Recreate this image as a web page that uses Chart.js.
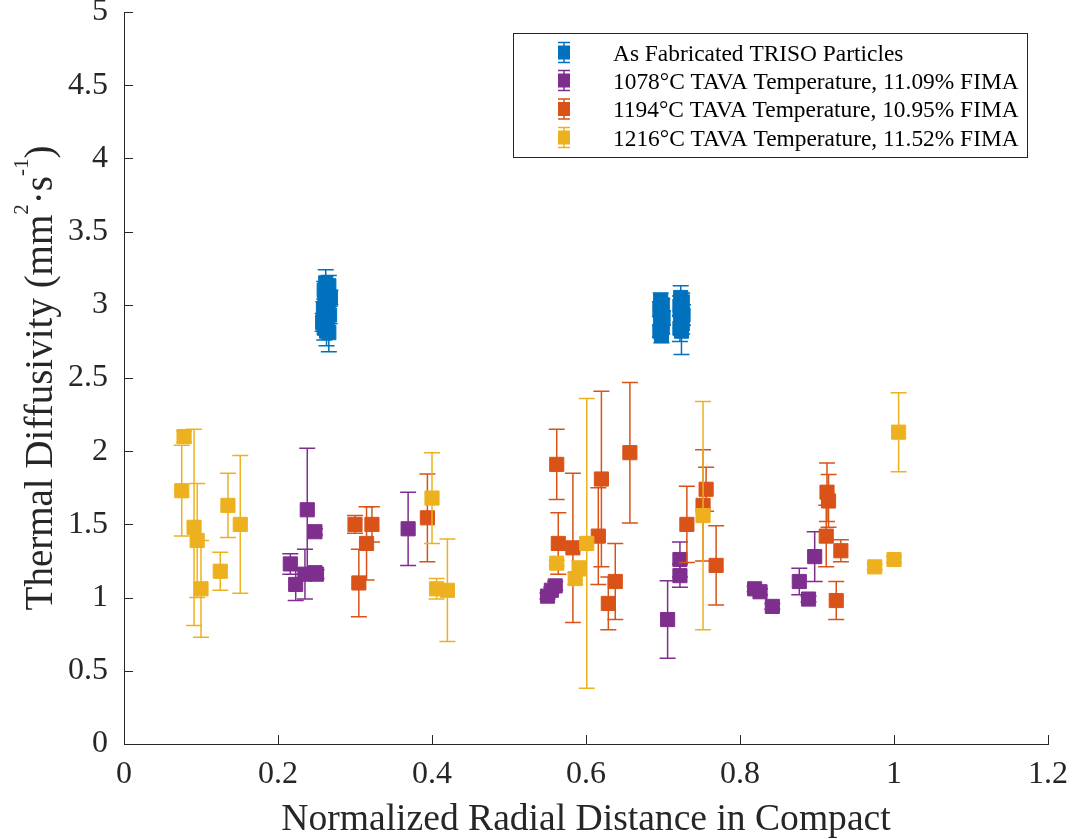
<!DOCTYPE html>
<html lang="en">
<head>
  <meta charset="UTF-8" />
  <title>Thermal Diffusivity vs Radial Distance</title>
  <script src="https://cdn.jsdelivr.net/npm/chart.js"></script>
  <style>
    body { margin: 0; background: #fff; }
    #wrap { width: 1074px; height: 839px; }
  </style>
</head>
<body>
  <div id="wrap"><canvas id="chart" width="1074" height="839"></canvas></div>

  <script>
    // tick positions and labels
    const xTicks = [0, 0.2, 0.4, 0.6, 0.8, 1, 1.2];
    const xTickLabels = ['0', '0.2', '0.4', '0.6', '0.8', '1', '1.2'];
    const yTicks = [0, 0.5, 1, 1.5, 2, 2.5, 3, 3.5, 4, 4.5, 5];
    const yTickLabels = ['0', '0.5', '1', '1.5', '2', '2.5', '3', '3.5', '4', '4.5', '5'];

    const seriesLabels = [
      'As Fabricated TRISO Particles',
      '1078°C TAVA Temperature, 11.09% FIMA',
      '1194°C TAVA Temperature, 10.95% FIMA',
      '1216°C TAVA Temperature, 11.52% FIMA'
    ];
    const seriesColors = ['#0072BD', '#7E2F8E', '#D95319', '#EDB120'];

    // as fabricated particles
    const blueX = [0.262, 0.266, 0.260, 0.264, 0.268, 0.261, 0.265, 0.259, 0.263, 0.267, 0.262, 0.258, 0.264, 0.260, 0.263, 0.266,
                   0.697, 0.699, 0.696, 0.698, 0.700, 0.697, 0.699, 0.696, 0.698,
                   0.723, 0.725, 0.722, 0.724, 0.726, 0.723, 0.725, 0.722, 0.724];
    const blueY = [3.15, 3.13, 3.10, 3.08, 3.05, 3.02, 3.00, 2.97, 2.95, 2.93, 2.91, 2.88, 2.86, 2.84, 2.82, 2.81,
                   3.03, 3.00, 2.97, 2.94, 2.91, 2.88, 2.85, 2.82, 2.79,
                   3.05, 3.02, 2.99, 2.96, 2.93, 2.90, 2.87, 2.84, 2.82];
    const blueErr = [0.09, 0.07, 0.06, 0.08, 0.05, 0.07, 0.06, 0.05, 0.07, 0.06, 0.05, 0.06, 0.07, 0.08, 0.10, 0.13,
                     0.05, 0.04, 0.05, 0.04, 0.05, 0.04, 0.05, 0.04, 0.05,
                     0.08, 0.06, 0.07, 0.06, 0.07, 0.06, 0.07, 0.09, 0.16];

    // 1078 C
    const purpleX = [0.216, 0.223, 0.235, 0.238, 0.248, 0.248, 0.250, 0.369, 0.550, 0.555, 0.560, 0.706, 0.722, 0.722, 0.819, 0.826, 0.842, 0.877, 0.889, 0.897];
    const purpleY = [1.23, 1.09, 1.16, 1.60, 1.17, 1.45, 1.16, 1.47, 1.01, 1.05, 1.08, 0.85, 1.26, 1.15, 1.06, 1.04, 0.94, 1.11, 0.99, 1.28];
    const purpleErr = [0.07, 0.11, 0.17, 0.42, 0.03, 0.02, 0.03, 0.25, 0.02, 0.02, 0.03, 0.265, 0.12, 0.08, 0.02, 0.02, 0.02, 0.09, 0.02, 0.17];

    // 1194 C
    const orangeX = [0.300, 0.305, 0.315, 0.322, 0.394, 0.562, 0.564, 0.583, 0.616, 0.620, 0.629, 0.638, 0.657, 0.731, 0.752, 0.756, 0.769, 0.912, 0.913, 0.915, 0.925, 0.931];
    const orangeY = [1.50, 1.10, 1.37, 1.50, 1.545, 1.91, 1.37, 1.34, 1.42, 1.81, 0.96, 1.11, 1.99, 1.50, 1.63, 1.74, 1.22, 1.42, 1.72, 1.66, 0.98, 1.32];
    const orangeErr = [0.06, 0.23, 0.25, 0.12, 0.30, 0.24, 0.21, 0.51, 0.33, 0.60, 0.18, 0.26, 0.48, 0.26, 0.38, 0.15, 0.27, 0.21, 0.20, 0.18, 0.13, 0.075];

    // 1216 C
    const yellowX = [0.078, 0.075, 0.091, 0.095, 0.100, 0.125, 0.135, 0.151, 0.400, 0.406, 0.420, 0.562, 0.586, 0.591, 0.601, 0.752, 0.975, 1.000, 1.006];
    const yellowY = [2.10, 1.73, 1.48, 1.39, 1.06, 1.18, 1.63, 1.50, 1.68, 1.06, 1.05, 1.235, 1.13, 1.20, 1.37, 1.56, 1.21, 1.26, 2.13];
    const yellowErr = [0.04, 0.31, 0.67, 0.39, 0.33, 0.13, 0.22, 0.47, 0.31, 0.07, 0.35, 0.02, 0.04, 0.05, 0.99, 0.78, 0.02, 0.02, 0.27];

    const xsAll = [blueX, purpleX, orangeX, yellowX];
    const ysAll = [blueY, purpleY, orangeY, yellowY];
    const errAll = [blueErr, purpleErr, orangeErr, yellowErr];

    const serif = "'Liberation Serif', 'Times New Roman', serif";
    const axisColor = '#262626';

    const datasets = seriesLabels.map((label, i) => ({
      label: label,
      data: xsAll[i].map((x, j) => ({ x: x, y: ysAll[i][j] })),
      errors: errAll[i],
      pointStyle: 'rect',
      pointRadius: 10,
      pointHoverRadius: 10,
      borderWidth: 1,
      backgroundColor: seriesColors[i],
      borderColor: seriesColors[i],
      order: seriesLabels.length - 1 - i
    }));

    // error bars, drawn under each series' own markers
    const errorBars = {
      id: 'errorBars',
      beforeDatasetDraw(chart, args) {
        const ds = chart.data.datasets[args.index];
        const xs = chart.scales.x, ys = chart.scales.y;
        const ctx = chart.ctx;
        ctx.save();
        ctx.strokeStyle = ds.borderColor;
        ctx.lineWidth = 1.5;
        ds.data.forEach((p, j) => {
          const e = ds.errors[j];
          const px = xs.getPixelForValue(p.x);
          const top = ys.getPixelForValue(p.y + e);
          const bot = ys.getPixelForValue(p.y - e);
          ctx.beginPath();
          ctx.moveTo(px, top); ctx.lineTo(px, bot);
          ctx.moveTo(px - 8, top); ctx.lineTo(px + 8, top);
          ctx.moveTo(px - 8, bot); ctx.lineTo(px + 8, bot);
          ctx.stroke();
        });
        ctx.restore();
      }
    };

    // inward tick marks, y title with superscripts, boxed legend
    const decorations = {
      id: 'decorations',
      afterDraw(chart) {
        const ctx = chart.ctx;
        const xs = chart.scales.x, ys = chart.scales.y;
        const area = chart.chartArea;
        ctx.save();
        ctx.strokeStyle = axisColor;
        ctx.lineWidth = 1;
        ctx.beginPath();
        xTicks.forEach(v => {
          const px = Math.round(xs.getPixelForValue(v)) + 0.5;
          ctx.moveTo(px, area.bottom); ctx.lineTo(px, area.bottom - 9);
        });
        yTicks.forEach(v => {
          const py = Math.round(ys.getPixelForValue(v)) + 0.5;
          ctx.moveTo(area.left, py); ctx.lineTo(area.left + 9, py);
        });
        ctx.stroke();

        // y axis title
        const parts = [
          ['Thermal Diffusivity (mm', 0], ['2', 1], ['\u00b7s', 0], ['-1', 1], [')', 0]
        ];
        const big = 39, small = 21;
        ctx.translate(52, 378);
        ctx.rotate(-Math.PI / 2);
        ctx.fillStyle = axisColor;
        ctx.textBaseline = 'alphabetic';
        let total = 0;
        parts.forEach(([t, sup]) => {
          ctx.font = (sup ? small : big) + 'px ' + serif;
          total += ctx.measureText(t).width;
        });
        let cx = -total / 2;
        parts.forEach(([t, sup]) => {
          ctx.font = (sup ? small : big) + 'px ' + serif;
          ctx.fillText(t, cx, sup ? -24 : 0);
          cx += ctx.measureText(t).width;
        });
        ctx.restore();

        // legend
        ctx.save();
        const lx = 513, ly = 33, lw = 514, lh = 124;
        ctx.fillStyle = '#fff';
        ctx.fillRect(lx, ly, lw, lh);
        ctx.strokeStyle = axisColor;
        ctx.lineWidth = 1;
        ctx.strokeRect(lx + 0.5, ly + 0.5, lw, lh);
        const baselines = [60.5, 88.5, 117, 145.5];
        ctx.font = '23.4px ' + serif;
        ctx.textBaseline = 'alphabetic';
        seriesLabels.forEach((label, i) => {
          const cy = baselines[i] - 8;
          const ix = 564;
          ctx.strokeStyle = seriesColors[i];
          ctx.lineWidth = 1.5;
          ctx.beginPath();
          ctx.moveTo(ix, cy - 10); ctx.lineTo(ix, cy + 10);
          ctx.moveTo(ix - 6, cy - 10); ctx.lineTo(ix + 6, cy - 10);
          ctx.moveTo(ix - 6, cy + 10); ctx.lineTo(ix + 6, cy + 10);
          ctx.stroke();
          ctx.fillStyle = seriesColors[i];
          ctx.fillRect(ix - 6, cy - 7, 12, 14);
          ctx.fillStyle = '#000';
          ctx.fillText(label, 613, baselines[i]);
        });
        ctx.restore();
      }
    };

    const tickFont = { family: serif, size: 32 };

    new Chart(document.getElementById('chart'), {
      type: 'scatter',
      data: { datasets: datasets },
      options: {
        responsive: false,
        devicePixelRatio: 1,
        animation: false,
        layout: { padding: { top: 12, right: 26, left: 0, bottom: 0 } },
        plugins: {
          legend: { display: false },
          tooltip: { enabled: false }
        },
        scales: {
          x: {
            type: 'linear',
            min: 0,
            max: 1.2,
            afterBuildTicks: s => { s.ticks = xTicks.map(v => ({ value: v })); },
            afterFit: s => { s.height = 95; s.paddingLeft = 0; s.paddingRight = 0; },
            grid: { display: false, drawTicks: false },
            border: { display: true, color: axisColor, width: 1 },
            ticks: {
              font: tickFont, color: axisColor, padding: 11, maxRotation: 0, autoSkip: false,
              callback: (v, i) => xTickLabels[i]
            },
            title: {
              display: true,
              text: 'Normalized Radial Distance in Compact',
              font: { family: serif, size: 37.6, lineHeight: 1 },
              color: axisColor,
              padding: { top: 0, bottom: 0 }
            }
          },
          y: {
            type: 'linear',
            min: 0,
            max: 5,
            afterBuildTicks: s => { s.ticks = yTicks.map(v => ({ value: v })); },
            afterFit: s => { s.width = 124; s.paddingTop = 0; s.paddingBottom = 0; },
            grid: { display: false, drawTicks: false },
            border: { display: true, color: axisColor, width: 1 },
            ticks: {
              font: tickFont, color: axisColor, padding: 16, autoSkip: false,
              callback: (v, i) => yTickLabels[i]
            }
          }
        }
      },
      plugins: [errorBars, decorations]
    });
  </script>
</body>
</html>
